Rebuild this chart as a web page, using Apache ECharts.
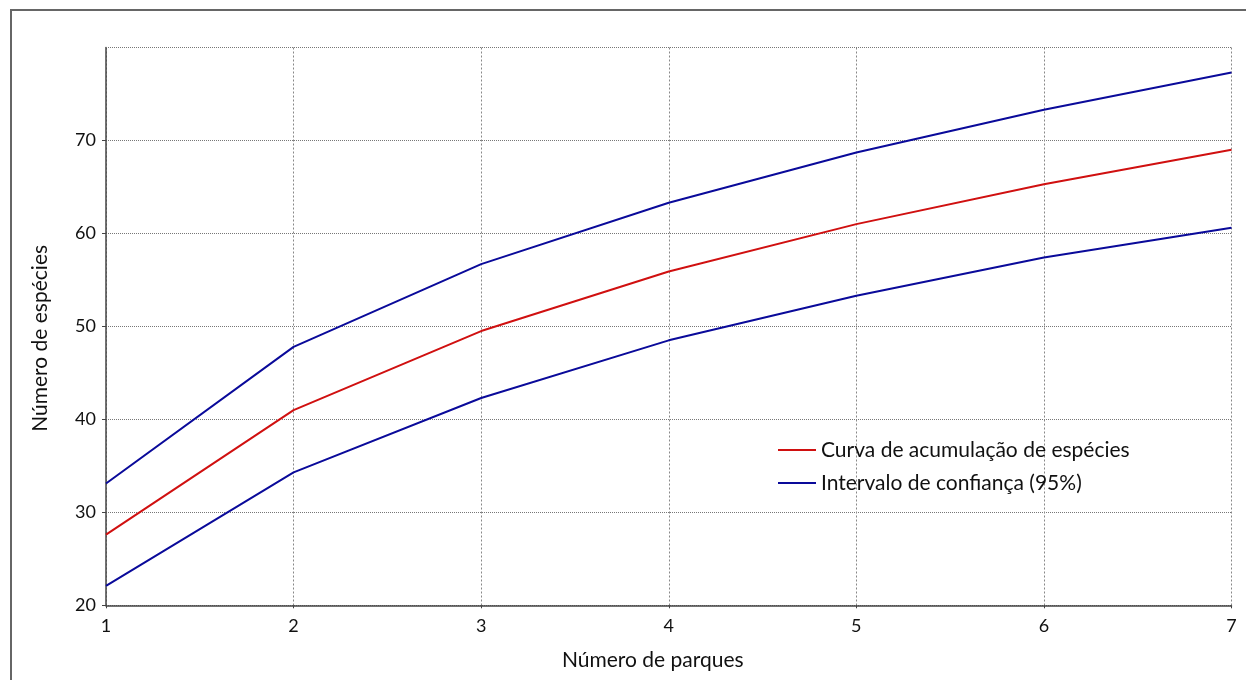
<!DOCTYPE html>
<html>
<head>
<meta charset="utf-8">
<script src="https://cdn.jsdelivr.net/npm/echarts@6/dist/echarts.min.js"></script>
<style>
  html, body { margin: 0; padding: 0; background: #fff; }
  #chart { width: 1246px; height: 680px; }
</style>
</head>
<body>
<div id="chart"></div>
<script>
// Number of parks sampled
const parques = [1, 2, 3, 4, 5, 6, 7];
// Species accumulation curve
const curva = [27.6, 41.0, 49.5, 55.9, 61.0, 65.3, 69.0];
// 95% confidence interval bounds
const limiteSuperior = [33.1, 47.8, 56.7, 63.3, 68.7, 73.3, 77.3];
const limiteInferior = [22.1, 34.3, 42.3, 48.5, 53.3, 57.4, 60.6];
// Labelled ticks on the species axis
const yTicks = [20, 30, 40, 50, 60, 70];
const yMax = 80;

const FONT = 'Lato';
const pairs = (vals) => parques.map((p, i) => [p, vals[i]]);

const chart = echarts.init(document.getElementById('chart'), null, { renderer: 'canvas' });
chart.setOption({
  animation: false,
  backgroundColor: '#ffffff',
  textStyle: { fontFamily: FONT },
  grid: { left: 106, top: 47.5, right: 14.5, bottom: 74.7, containLabel: false },
  graphic: [{
    type: 'polyline',
    shape: { points: [[11, 700], [11, 10], [1260, 10]] },
    style: { stroke: '#666666', lineWidth: 2, fill: null },
    silent: true
  }],
  legend: {
    orient: 'vertical',
    left: 773,
    top: 432,
    icon: 'rect',
    itemWidth: 38,
    itemHeight: 2,
    itemGap: 7,
    itemTextGap: 11,
    textStyle: { fontFamily: FONT, fontSize: 21, color: '#111', lineHeight: 26 },
    data: ['Curva de acumulação de espécies', 'Intervalo de confiança (95%)']
  },
  xAxis: {
    type: 'value',
    min: 1, max: 7, interval: 1,
    name: 'Número de parques',
    nameLocation: 'middle',
    nameGap: 44,
    nameTextStyle: { fontFamily: FONT, fontSize: 21, color: '#111', padding: [0, 32, 0, 0] },
    axisLine: { show: true, onZero: false, lineStyle: { color: '#444', width: 1.5 } },
    axisTick: { show: true, length: 3, lineStyle: { color: '#444' } },
    axisLabel: { fontFamily: FONT, fontSize: 18, color: '#111', margin: 12 },
    splitLine: { show: true, lineStyle: { color: '#888', type: [2, 2], width: 1 } }
  },
  yAxis: {
    type: 'value',
    min: 20, max: yMax, interval: 10,
    name: 'Número de espécies',
    nameLocation: 'middle',
    nameGap: 55,
    nameTextStyle: { fontFamily: FONT, fontSize: 21, color: '#111', padding: [0, 24, 0, 0] },
    axisLine: { show: true, lineStyle: { color: '#444', width: 1.5 } },
    axisTick: { show: true, length: 4, customValues: yTicks, lineStyle: { color: '#444' } },
    axisLabel: { fontFamily: FONT, fontSize: 18, color: '#111', margin: 10, customValues: yTicks },
    splitLine: { show: true, lineStyle: { color: '#777', type: [1, 1], width: 1 } }
  },
  series: [
    {
      name: 'Intervalo de confiança (95%)',
      type: 'line',
      data: pairs(limiteSuperior),
      showSymbol: false,
      lineStyle: { color: '#0a0a9a', width: 2 },
      itemStyle: { color: '#0a0a9a' },
      // dotted top edge of the plot at the axis maximum
      markLine: {
        silent: true,
        symbol: 'none',
        label: { show: false },
        lineStyle: { color: '#777', type: [1, 1], width: 1 },
        data: [{ yAxis: yMax }]
      }
    },
    {
      name: 'Curva de acumulação de espécies',
      type: 'line',
      data: pairs(curva),
      showSymbol: false,
      lineStyle: { color: '#d01010', width: 2 },
      itemStyle: { color: '#d01010' }
    },
    {
      name: 'Intervalo de confiança (95%)',
      type: 'line',
      data: pairs(limiteInferior),
      showSymbol: false,
      lineStyle: { color: '#0a0a9a', width: 2 },
      itemStyle: { color: '#0a0a9a' }
    }
  ]
});
</script>
</body>
</html>
